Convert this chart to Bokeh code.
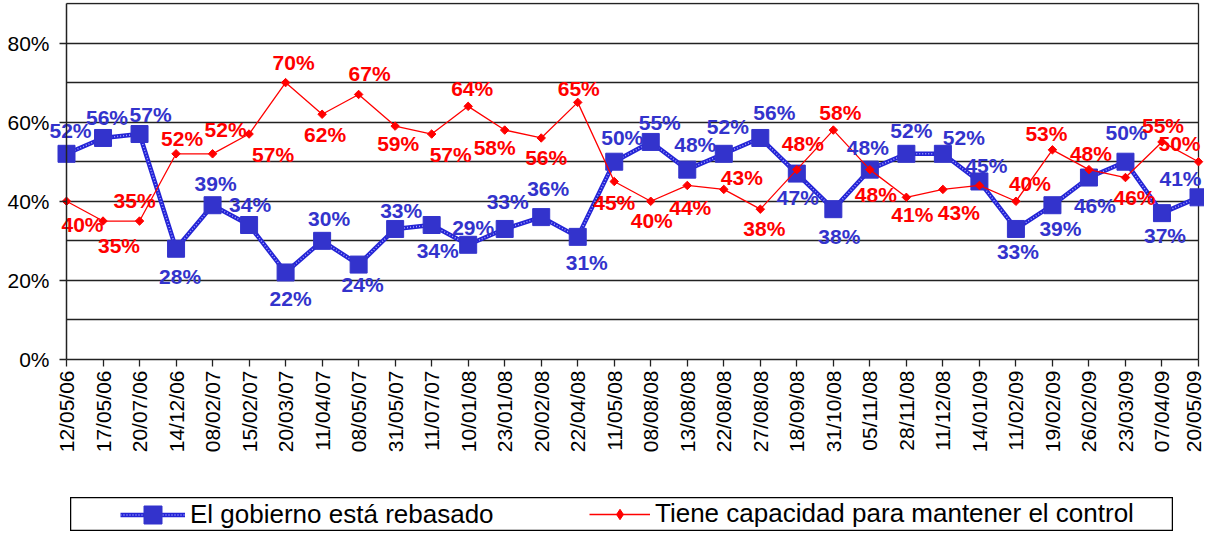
import numpy as np
from bokeh.plotting import figure
from bokeh.models import (ColumnDataSource, Range1d, FixedTicker, LinearAxis,
                          Legend, LegendItem, Spacer, Grid)
from bokeh.layouts import column, row
from bokeh.embed import file_html
from bokeh.resources import INLINE
from bokeh.core.properties import value

# ---------------- data ----------------
dates = ["12/05/06", "17/05/06", "20/07/06", "14/12/06", "08/02/07", "15/02/07",
         "20/03/07", "11/04/07", "08/05/07", "31/05/07", "11/07/07", "10/01/08",
         "23/01/08", "20/02/08", "22/04/08", "11/05/08", "08/08/08", "13/08/08",
         "22/08/08", "27/08/08", "18/09/08", "31/10/08", "05/11/08", "28/11/08",
         "11/12/08", "14/01/09", "11/02/09", "19/02/09", "26/02/09", "23/03/09",
         "07/04/09", "20/05/09"]
rebasado = [52, 56, 57, 28, 39, 34, 22, 30, 24, 33, 34, 29, 33, 36, 31, 50,
            55, 48, 52, 56, 47, 38, 48, 52, 52, 45, 33, 39, 46, 50, 37, 41]
control = [40, 35, 35, 52, 52, 57, 70, 62, 67, 59, 57, 64, 58, 56, 65, 45,
           40, 44, 43, 38, 48, 58, 48, 41, 43, 44, 40, 53, 48, 46, 55, 50]
control_label_shown = [True] * 25 + [False] + [True] * 6
y_ticks = [0, 20, 40, 60, 80]
y_grid = [10, 20, 30, 40, 50, 60, 70, 80, 90]
y_top = 90
name_blue = "El gobierno está rebasado"
name_red = "Tiene capacidad para mantener el control"

# ---------------- label placement (screen px, style only) ----------------
blue_dx = [4, 4, 11, 4, 3, 1, 5, 7, 4, 6, 6, 5, 3, 7, 9, 8, 9, 8, 4, 14,
           1, 6, -2, 5, 21, 7, 2, 8, 6, 1, 3, -18]
blue_dy = [-23, -20, -20, 28, -22, -21, 26, -22, 20, -18, 25, -17, -27, -29, 26, -24,
           -19, -25, -27, -25, 24, 27, -22, -23, -16, -16, 23, 23, 28, -29, 22, -19]
red_dx = [16, 16, -5, 6, 13, 24, 8, 3, 11, 3, 19, 4, -10, 5, 1, 0, 1, 3, 18, 4,
          6, 7, 6, 6, 16, 0, 14, -6, 2, 9, 1, -19]
red_dy = [23, 24, -21, -15, -24, 20, -20, 20, -21, 17, 20, -18, 17, 20, -14, 21,
          19, 22, -12, 19, -26, -18, 25, 17, 23, 0, -18, -16, -16, 20, -16, -18]

BLUE = "#3333CC"
BLUE_LINE = "#2424D6"
BLUE_DOTS = "#A8A8FF"
RED = "#FF0000"
FONT = "Liberation Sans"
GRID = "#222222"

x = list(range(len(dates)))
n = len(dates)

blue_src = ColumnDataSource(dict(x=x, y=rebasado, t=[f"{v}%" for v in rebasado],
                                 dx=blue_dx, dy=blue_dy))
red_src = ColumnDataSource(dict(x=x, y=control))
keep = [i for i in x if control_label_shown[i]]
red_lab = ColumnDataSource(dict(x=[x[i] for i in keep], y=[control[i] for i in keep],
                                t=[f"{control[i]}%" for i in keep],
                                dx=[red_dx[i] for i in keep], dy=[red_dy[i] for i in keep]))

# frame covers the whole canvas; axes are pinned at x=0 and y=0
W, H = 1204, 497
px_left, px_zero_x, px_last_x = 2, 66, 1198      # screen positions (layout)
px_top, px_zero_y = 2, 359
sx = (px_last_x - px_zero_x) / (n - 1)
sy = (px_zero_y - px_top) / (y_top + 0.25)
x0 = -(px_zero_x - px_left) / sx
x1 = (n - 1) + (W - px_last_x) / sx
y0 = -(H - px_zero_y) / sy

p = figure(width=W, height=H,
           x_range=Range1d(x0, x1), y_range=Range1d(y0, y_top + 0.25),
           output_backend="svg", toolbar_location=None,
           x_axis_location=None, y_axis_location=None,
           min_border_left=px_left, min_border_right=0, min_border_top=px_top,
           min_border_bottom=0,
           outline_line_color=None, background_fill_color="white", border_fill_color="white")
p.xgrid.visible = False
p.ygrid.visible = False

hgrid = Grid(dimension=1, ticker=FixedTicker(ticks=y_grid), cross_bounds=(0, n - 1),
             grid_line_color=GRID, grid_line_width=1.3)
vgrid = Grid(dimension=0, ticker=FixedTicker(ticks=[n - 1]), cross_bounds=(0, y_top),
             grid_line_color=GRID, grid_line_width=1.3)
p.add_layout(hgrid, "center")
p.add_layout(vgrid, "center")

yaxis = LinearAxis(fixed_location=0, bounds=(0, y_top), ticker=FixedTicker(ticks=y_ticks),
                   major_label_overrides={t: f"{t}%" for t in y_ticks})
xaxis = LinearAxis(fixed_location=0, bounds=(0, n - 1), ticker=FixedTicker(ticks=x),
                   major_label_overrides={i: d for i, d in enumerate(dates)},
                   major_label_orientation=np.pi / 2)
for ax, standoff in ((yaxis, 10), (xaxis, 4)):
    ax.axis_line_color = GRID
    ax.axis_line_width = 1.5
    ax.major_tick_out = 7
    ax.major_tick_in = 0
    ax.major_tick_line_color = GRID
    ax.major_tick_line_width = 1.3
    ax.minor_tick_line_color = None
    ax.major_label_standoff = standoff
    ax.major_label_text_font = FONT
    ax.major_label_text_font_size = "21px"
    ax.major_label_text_color = "black"
p.add_layout(yaxis, "left")
p.add_layout(xaxis, "below")

# series
p.line("x", "y", source=blue_src, line_color=BLUE_LINE, line_width=4.5)
p.line("x", "y", source=blue_src, line_color=BLUE_DOTS, line_width=1.5, line_dash="1 2")
p.scatter("x", "y", source=blue_src, marker="square", size=17,
          fill_color=BLUE, line_color=BLUE)
p.line("x", "y", source=red_src, line_color=RED, line_width=1.3)
p.scatter("x", "y", source=red_src, marker="square", angle=np.pi / 4, size=6,
          fill_color=RED, line_color=RED)

p.text("x", "y", text="t", source=blue_src, x_offset="dx", y_offset="dy",
       text_font=value(FONT), text_font_style="bold", text_font_size="21px",
       text_color=BLUE, text_align="center", text_baseline="middle")
p.text("x", "y", text="t", source=red_lab, x_offset="dx", y_offset="dy",
       text_font=value(FONT), text_font_style="bold", text_font_size="21px",
       text_color=RED, text_align="center", text_baseline="middle")

# ---------------- legend box (same series, ranges chosen so no data shows) ----------------
lg = figure(width=1103, height=34, x_range=Range1d(-3, -2), y_range=Range1d(-3, -2),
            x_axis_location=None, y_axis_location=None, toolbar_location=None,
            output_backend="svg", min_border=0,
            outline_line_color="black", outline_line_width=1.5,
            background_fill_color="white", border_fill_color="white")
lg.grid.visible = False
b1 = lg.line("x", "y", source=blue_src, line_color=BLUE_LINE, line_width=4.5)
b2 = lg.line("x", "y", source=blue_src, line_color=BLUE_DOTS, line_width=1.5, line_dash="1 2")
b3 = lg.scatter("x", "y", source=blue_src, marker="square", size=17,
                fill_color=BLUE, line_color=BLUE)
r1 = lg.line("x", "y", source=red_src, line_color=RED, line_width=1.5)
r2 = lg.scatter("x", "y", source=red_src, marker="diamond", size=10,
                fill_color=RED, line_color=RED)

common = dict(padding=0, margin=0, border_line_alpha=0, background_fill_alpha=0,
              label_text_font=FONT, label_text_font_size="26px", label_text_color="black",
              label_height=30, label_standoff=5, orientation="horizontal")
leg1 = Legend(items=[LegendItem(label=name_blue, renderers=[b1, b2, b3])],
              location=(50, -5.5), glyph_width=65, glyph_height=45, **common)
leg2 = Legend(items=[LegendItem(label=name_red, renderers=[r1, r2])],
              location=(519, 2), glyph_width=61, glyph_height=26, **common)
lg.add_layout(leg1, "center")
lg.add_layout(leg2, "center")

layout = column(p, row(Spacer(width=70, height=34), lg))

open("out.html", "w").write(file_html(layout, INLINE))
